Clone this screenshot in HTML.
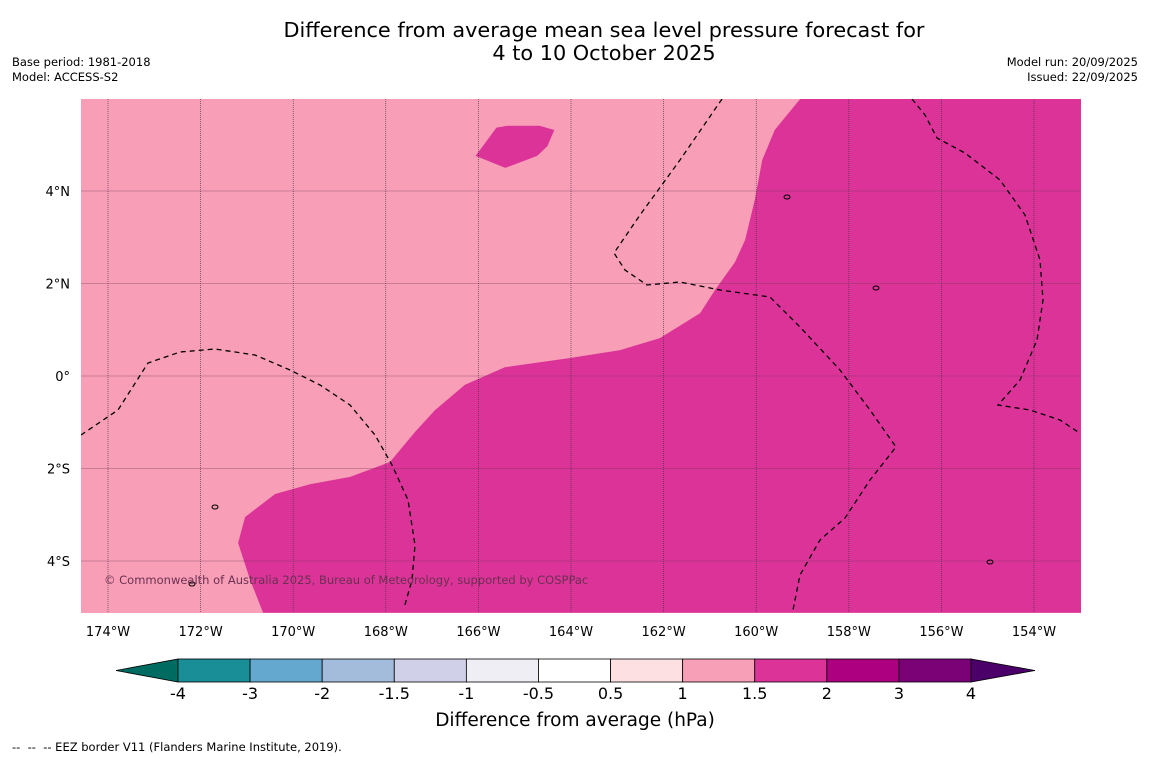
<!DOCTYPE html>
<html><head><meta charset="utf-8"><style>
body{margin:0;background:#fff;font-family:"DejaVu Sans",sans-serif;}
#wrap{position:relative;width:1150px;height:758px;overflow:hidden;background:#fff}
.t{position:absolute;color:#000;white-space:nowrap}
</style></head><body>
<div id="wrap">
<div class="t" style="left:0;width:1208px;top:19px;text-align:center;font-size:20.8px;line-height:23px">Difference from average mean sea level pressure forecast for<br>4 to 10 October 2025</div>
<div class="t" style="left:12px;top:55px;font-size:11.5px;line-height:15px">Base period: 1981-2018<br>Model: ACCESS-S2</div>
<div class="t" style="right:12px;top:55px;font-size:11.5px;line-height:15px;text-align:right">Model run: 20/09/2025<br>Issued: 22/09/2025</div>
<div class="t" style="left:12px;top:740px;font-size:11.5px">--&nbsp; --&nbsp; -- EEZ border V11 (Flanders Marine Institute, 2019).</div>
<svg id="svg" width="1150" height="758" style="position:absolute;left:0;top:0"></svg>
</div>
<script>
const lonTicks=[-174,-172,-170,-168,-166,-164,-162,-160,-158,-156,-154];
const latTicks=[4,2,0,-2,-4];
const highLons=[-159.05,-159.6,-159.87,-160.03,-160.24,-160.46,-160.89,-161.21,-162.08,-162.94,-164.02,-165.43,-166.29,-166.94,-167.37,-167.91,-168.77,-169.64,-170.39,-171.04,-171.19,-170.93,-170.65,-152.98,-152.98];
const highLats=[5.99,5.32,4.67,3.81,2.94,2.46,1.86,1.36,0.82,0.56,0.39,0.19,-0.19,-0.74,-1.21,-1.86,-2.18,-2.34,-2.55,-3.05,-3.61,-4.41,-5.12,-5.12,5.99];
const blobLons=[-166.06,-165.61,-165.37,-164.68,-164.36,-164.51,-164.73,-165.42];
const blobLats=[4.76,5.37,5.41,5.41,5.32,4.97,4.76,4.5];
const cbLevels=[-4,-3,-2,-1.5,-1,-0.5,0.5,1,1.5,2,3,4];
const cbColors=["#1a8e96","#64a8d0","#a4bcdc","#d0d0e8","#efeef4","#ffffff","#fde0e2","#f89fb8","#dc3399","#ad0080","#7b0176"];
const X0=81,X1=1081,Y0=99,Y1=613;
const FF="DejaVu Sans";
const lx=l=>108+(l+174)*46.3, ly=l=>376-l*46.25;
const svg=document.getElementById('svg');const NS="http://www.w3.org/2000/svg";
function mk(t,a,p){const e=document.createElementNS(NS,t);for(const k in a)e.setAttribute(k,a[k]);(p||svg).appendChild(e);return e;}
const bg=mk('rect',{x:X0,y:Y0,width:X1-X0,height:Y1-Y0,fill:'#f89fb7'});


mk('clipPath',{id:'cp'});mk('rect',{x:X0,y:Y0,width:X1-X0,height:Y1-Y0},svg.lastChild);
const g=mk('g',{'clip-path':'url(#cp)'});
const hp=mk('polygon',{points:highLons.map((l,i)=>lx(l)+','+ly(highLats[i])).join(' '),fill:'#dc3399'},g);


const bp=mk('polygon',{points:blobLons.map((l,i)=>lx(l)+','+ly(blobLats[i])).join(' '),fill:'#dc3399'},g);


lonTicks.forEach(l=>{const x=lx(l);
 const ln=mk('line',{x1:x,x2:x,y1:Y0,y2:Y1,stroke:'#333',"stroke-width":0.6,"stroke-dasharray":"1,1"},g);
 
 
 const t=mk('text',{x:x,y:636,"text-anchor":"middle","font-size":13,"font-family":FF});t.textContent=Math.abs(l)+'°W';
 
 });
latTicks.forEach(l=>{const y=ly(l);
 const ln=mk('line',{x1:X0,x2:X1,y1:y,y2:y,stroke:'#7a3a60',"stroke-width":0.6,opacity:0.7},g);
 
 
 const t=mk('text',{x:70,y:y+5,"text-anchor":"end","font-size":13,"font-family":FF});t.textContent=l==0?'0°':Math.abs(l)+'°'+(l>0?'N':'S');
 
 });
const eez=[
"81,435 118,410 148,363 180,352 215,349 255,355 290,370 320,385 350,405 375,435 392,465 408,500 415,545 412,580 404,608",
"722,99 680,160 640,215 614,253 625,270 647,285 680,282 720,290 770,297 800,327 840,370 870,410 896,447 870,480 845,518 820,540 800,575 793,610",
"912,99 925,115 937,138 965,153 1000,180 1025,215 1040,260 1043,300 1037,340 1020,380 998,405 1030,410 1060,420 1078,432"];
eez.forEach(p=>{const e=mk('polyline',{points:p,fill:'none',stroke:'#000',"stroke-width":1.3,"stroke-dasharray":"5,4"},g);
 
 });
[[215,507],[787,197],[876,288],[192,584],[990,562]].forEach(([x,y])=>{const e=mk('ellipse',{cx:x,cy:y,rx:3,ry:2,fill:'none',stroke:'#000',"stroke-width":1},g);
 
 });
const cr=mk('text',{x:104,y:584,"font-size":11.5,fill:'#6a3050',"font-family":FF},g);cr.textContent='© Commonwealth of Australia 2025, Bureau of Meteorology, supported by COSPPac';


const cbX0=178,cbX1=971,cbY=659,cbH=23,w=(cbX1-cbX0)/cbColors.length;
const el=mk('polygon',{points:`116,${cbY+cbH/2} ${cbX0},${cbY} ${cbX0},${cbY+cbH}`,fill:'#006b60',stroke:'#000',"stroke-width":0.8});


const er=mk('polygon',{points:`1035,${cbY+cbH/2} ${cbX1},${cbY} ${cbX1},${cbY+cbH}`,fill:'#4a0068',stroke:'#000',"stroke-width":0.8});


cbColors.forEach((c,i)=>{const r=mk('rect',{x:cbX0+i*w,y:cbY,width:w,height:cbH,fill:c,stroke:'#000',"stroke-width":0.8});
 
 });
cbLevels.forEach((v,i)=>{const t=mk('text',{x:cbX0+i*w,y:699,"text-anchor":"middle","font-size":16,"font-family":FF});t.textContent=v;
 
 });
const ct=mk('text',{x:575,y:726,"text-anchor":"middle","font-size":18.5,"font-family":FF});ct.textContent='Difference from average (hPa)';


</script>
</body></html>
